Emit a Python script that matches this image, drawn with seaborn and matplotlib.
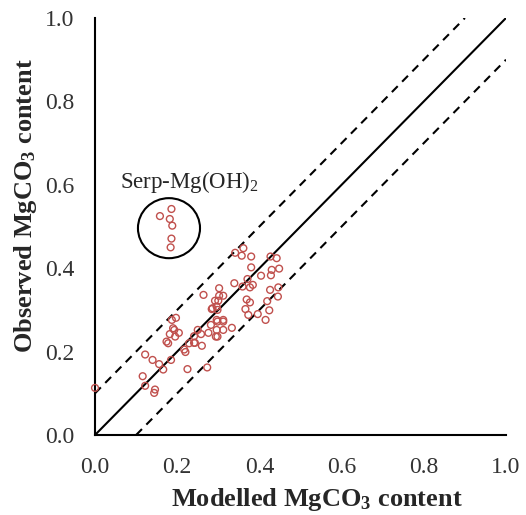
import numpy as np
import pandas as pd
import matplotlib
matplotlib.use("Agg")
import matplotlib.pyplot as plt
from matplotlib.patches import Ellipse
import seaborn as sns

# ---- data ----
modelled = [0.0,
            0.186, 0.158, 0.182, 0.188, 0.186, 0.184,
            0.122, 0.140, 0.156, 0.166, 0.185, 0.116, 0.122, 0.146, 0.144, 0.225,
            0.187, 0.197, 0.190, 0.182, 0.195, 0.204, 0.174, 0.178, 0.193,
            0.217, 0.220, 0.229, 0.241, 0.250, 0.241, 0.260, 0.258, 0.276, 0.273,
            0.243, 0.282, 0.298, 0.312, 0.296, 0.312, 0.294, 0.298, 0.264,
            0.284, 0.292, 0.296, 0.302, 0.312, 0.302, 0.300, 0.286, 0.298, 0.333,
            0.341, 0.361, 0.357, 0.380, 0.427, 0.442, 0.380, 0.430, 0.448, 0.428,
            0.404, 0.371, 0.339, 0.359, 0.377, 0.384, 0.426, 0.446, 0.445, 0.369,
            0.377, 0.419, 0.366, 0.424, 0.373, 0.396, 0.415, 0.296, 0.312]
observed = [0.113,
            0.542, 0.525, 0.518, 0.502, 0.471, 0.450,
            0.193, 0.180, 0.170, 0.157, 0.180, 0.141, 0.118, 0.109, 0.101, 0.158,
            0.276, 0.281, 0.256, 0.242, 0.236, 0.245, 0.224, 0.220, 0.252,
            0.205, 0.199, 0.220, 0.221, 0.252, 0.237, 0.214, 0.242, 0.245, 0.162,
            0.221, 0.264, 0.272, 0.272, 0.252, 0.252, 0.236, 0.236, 0.336,
            0.302, 0.322, 0.308, 0.352, 0.334, 0.334, 0.322, 0.304, 0.300, 0.257,
            0.437, 0.448, 0.430, 0.428, 0.428, 0.424, 0.402, 0.396, 0.399, 0.383,
            0.382, 0.374, 0.364, 0.356, 0.354, 0.360, 0.348, 0.354, 0.332, 0.325,
            0.318, 0.321, 0.302, 0.299, 0.288, 0.290, 0.276, 0.276, 0.276]

ref_x = [0.0, 1.0]
upper_x = [0.0, 0.9]
lower_x = [0.1, 1.0]
offset = 0.1
ticks = [0.0, 0.2, 0.4, 0.6, 0.8, 1.0]
tick_labels = ["0.0", "0.2", "0.4", "0.6", "0.8", "1.0"]
group_label = "Serp-Mg(OH)$_2$"
group_center = (0.180, 0.496)
group_size = (0.151, 0.144)

df = pd.DataFrame({"Modelled": modelled, "Observed": observed})

sns.set_style("white")
serif = "Liberation Serif"
plt.rcParams["font.family"] = [serif, "DejaVu Serif"]
plt.rcParams["mathtext.fontset"] = "custom"
plt.rcParams["mathtext.rm"] = serif
plt.rcParams["mathtext.it"] = serif + ":italic"
plt.rcParams["mathtext.bf"] = serif + ":bold"

fig = plt.figure(figsize=(5.26, 5.15), dpi=100)
ax = fig.add_axes([95 / 526, 80 / 515, 411 / 526, 417 / 515])

# reference lines
ax.plot(ref_x, ref_x, color="black", lw=1.5, zorder=1)
ax.plot(upper_x, [x + offset for x in upper_x], color="black", lw=1.5,
        ls=(0, (4, 3)), zorder=1)
ax.plot(lower_x, [x - offset for x in lower_x], color="black", lw=1.5,
        ls=(0, (4, 3)), zorder=1)

sns.scatterplot(data=df, x="Modelled", y="Observed", ax=ax, marker="o",
                s=24, facecolor="none", edgecolor="#C0504D", linewidth=1.0,
                zorder=3, legend=False, clip_on=False)

ax.add_patch(Ellipse(group_center, group_size[0], group_size[1], fill=False,
                     edgecolor="black", lw=1.5, zorder=2))
ax.text(0.060, 0.607, group_label, fontsize=16.5, ha="left", va="center")

ax.set_xlim(0, 1)
ax.set_ylim(0, 1)
ax.set_xticks(ticks)
ax.set_yticks(ticks)
ax.set_xticklabels(tick_labels)
ax.set_yticklabels(tick_labels)
ax.tick_params(axis="both", direction="out", length=5, width=1.5,
               labelsize=17, color="black", labelcolor="#333333")
ax.tick_params(axis="x", pad=11)
ax.tick_params(axis="y", pad=10)
for s in ["top", "right"]:
    ax.spines[s].set_visible(False)
for s in ["left", "bottom"]:
    ax.spines[s].set_color("black")
    ax.spines[s].set_linewidth(1.5)

ax.set_xlabel(r"Modelled MgCO$_\mathbf{3}$ content", fontsize=19,
              fontweight="bold")
ax.set_ylabel(r"Observed MgCO$_\mathbf{3}$ content", fontsize=19,
              fontweight="bold")
ax.xaxis.set_label_coords(0.541, -0.122)
ax.yaxis.set_label_coords(-0.137, 0.55)
ax.grid(False)

fig.savefig("out.png", dpi=100)
